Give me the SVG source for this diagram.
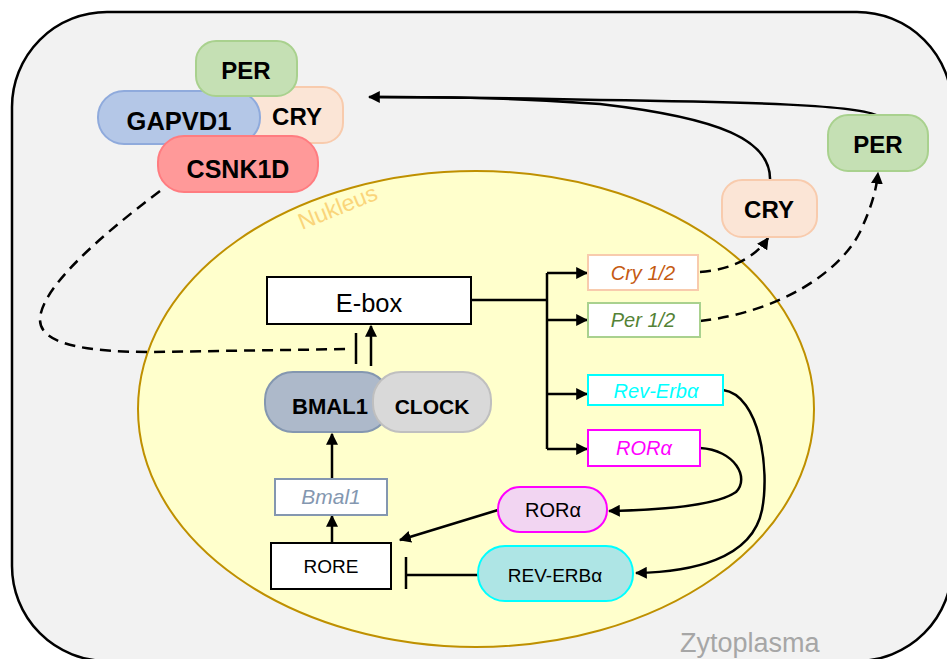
<svg xmlns="http://www.w3.org/2000/svg" width="947" height="659" viewBox="0 0 947 659">
<defs>
<marker id="arr" viewBox="0 0 10 10" refX="9" refY="5" markerWidth="12" markerHeight="12" markerUnits="userSpaceOnUse" orient="auto">
<path d="M0,0 L10,5 L0,10 z" fill="#000"/>
</marker>
<style>
.ln{fill:none;stroke:#000;stroke-width:2.5}
.ds{fill:none;stroke:#000;stroke-width:2.5;stroke-dasharray:11 7}
.b{font-family:"Liberation Sans",Arial,sans-serif;font-weight:bold;font-size:24px;fill:#000;text-anchor:middle}
.r{font-family:"Liberation Sans",Arial,sans-serif;font-size:19px;fill:#000;text-anchor:middle}
.i{font-family:"Liberation Sans",Arial,sans-serif;font-style:italic;font-size:20px;text-anchor:middle}
.gene{fill:#fff;stroke-width:2}
</style>
</defs>
<rect x="12" y="12" width="940" height="649" rx="95" ry="95" fill="#f2f2f2" stroke="#000" stroke-width="2.5"/>
<ellipse cx="476" cy="409" rx="338" ry="238" fill="#ffffcc" stroke="#bf9000" stroke-width="2"/>
<text x="302" y="230" transform="rotate(-22 302 230)" font-family="Liberation Sans,Arial,sans-serif" font-size="23" fill="#fad57a">Nukleus</text>
<text x="680" y="652" font-family="Liberation Sans,Arial,sans-serif" font-size="27" fill="#a6a6a6">Zytoplasma</text>

<g id="connectors">
<path class="ds" d="M160,191 C 95,240 40,290 40,320 C 40,345 90,352 150,352 L 352,349"/>
<line class="ln" x1="356" y1="333" x2="356" y2="364"/>
<line class="ln" x1="371" y1="366" x2="371" y2="326" marker-end="url(#arr)"/>
<path class="ln" d="M471,300 L547,300"/>
<path class="ln" d="M547,273 L547,449"/>
<line class="ln" x1="547" y1="273" x2="587" y2="273" marker-end="url(#arr)"/>
<line class="ln" x1="547" y1="320" x2="587" y2="320" marker-end="url(#arr)"/>
<line class="ln" x1="547" y1="394" x2="587" y2="394" marker-end="url(#arr)"/>
<line class="ln" x1="547" y1="449" x2="587" y2="449" marker-end="url(#arr)"/>
<path class="ds" d="M700,272 C 730,270 755,258 768,238" marker-end="url(#arr)"/>
<path class="ds" d="M700,321 C 780,312 840,272 860,232 C 871,208 876,192 878,173" marker-end="url(#arr)"/>
<path class="ln" d="M770,181 C 772,140 720,118 600,104 C 500,97 430,97 369,97" marker-end="url(#arr)"/>
<path class="ln" d="M878,116 C 860,105 750,102 600,100 C 500,98 440,97 380,97"/>
<path class="ln" d="M723,390 C 760,395 770,470 762,510 C 752,560 690,572 636,573" marker-end="url(#arr)"/>
<path class="ln" d="M700,448 C 735,450 750,478 736,492 C 716,506 660,510 609,511" marker-end="url(#arr)"/>
<line class="ln" x1="498" y1="510" x2="400" y2="540" marker-end="url(#arr)"/>
<line class="ln" x1="478" y1="575" x2="406" y2="575"/>
<line class="ln" x1="406" y1="557" x2="406" y2="589"/>
<line class="ln" x1="332" y1="479" x2="332" y2="434" marker-end="url(#arr)"/>
<line class="ln" x1="332" y1="543" x2="332" y2="516" marker-end="url(#arr)"/>
</g>

<g id="cry-complex">
<rect x="235" y="87" width="108" height="56" rx="20" fill="#fbe5d6" stroke="#f8cbad" stroke-width="2"/>
<text class="b" x="297" y="125">CRY</text>
</g>
<g id="gapvd1">
<rect x="98" y="91" width="162" height="53" rx="26" fill="#b4c7e7" stroke="#8faadc" stroke-width="2"/>
<text class="b" x="179" y="130" style="font-size:25.5px">GAPVD1</text>
</g>
<g id="per-complex">
<rect x="196" y="41" width="101" height="55" rx="20" fill="#c5e0b4" stroke="#a9d18e" stroke-width="2"/>
<text class="b" x="246" y="79">PER</text>
</g>
<g id="csnk1d">
<rect x="158" y="136" width="160" height="56" rx="26" fill="#ff9999" stroke="#ff7c80" stroke-width="2"/>
<text class="b" x="238" y="178" style="font-size:25px">CSNK1D</text>
</g>

<g id="ebox">
<rect x="267" y="277" width="204" height="47" fill="#fff" stroke="#000" stroke-width="2"/>
<text class="r" x="369" y="312" style="font-size:25.5px">E-box</text>
</g>
<g id="cry12">
<rect class="gene" x="588" y="255" width="110" height="35" stroke="#f8cbad"/>
<text class="i" x="643" y="280" fill="#c55a11">Cry 1/2</text>
</g>
<g id="per12">
<rect class="gene" x="588" y="303" width="112" height="34" stroke="#a9d18e"/>
<text class="i" x="643" y="327" fill="#548235">Per 1/2</text>
</g>
<g id="reverba-gene">
<rect class="gene" x="588" y="375" width="135" height="30" stroke="#00ffff"/>
<text class="i" x="656" y="398" fill="#00ffff">Rev-Erbα</text>
</g>
<g id="rora-gene">
<rect class="gene" x="588" y="430" width="112" height="36" stroke="#ff00ff"/>
<text class="i" x="644" y="455" fill="#ff00ff">RORα</text>
</g>

<g id="bmal1">
<rect x="265" y="372" width="125" height="60" rx="28" fill="#adb9ca" stroke="#8497b0" stroke-width="2"/>
<text class="b" x="330" y="414" style="font-size:22px">BMAL1</text>
</g>
<g id="clock">
<rect x="373" y="372" width="118" height="60" rx="28" fill="#d9d9d9" stroke="#bfbfbf" stroke-width="2"/>
<text class="b" x="432" y="414" style="font-size:21px">CLOCK</text>
</g>
<g id="bmal1-gene">
<rect class="gene" x="275" y="479" width="112" height="36" stroke="#8497b0"/>
<text class="i" x="331" y="504" fill="#8497b0" style="font-size:21px">Bmal1</text>
</g>
<g id="rore">
<rect x="271" y="543" width="120" height="46" fill="#fff" stroke="#000" stroke-width="2"/>
<text class="r" x="331" y="573">RORE</text>
</g>
<g id="rora-protein">
<rect x="498" y="487" width="109" height="45" rx="22" fill="#f2d5f2" stroke="#ff00ff" stroke-width="2"/>
<text class="r" x="553" y="517" style="font-size:20px">RORα</text>
</g>
<g id="reverba-protein">
<rect x="478" y="546" width="155" height="55" rx="27" fill="#aee5e5" stroke="#00ffff" stroke-width="2"/>
<text class="r" x="555" y="582">REV-ERBα</text>
</g>
<g id="cry-right">
<rect x="722" y="180" width="95" height="57" rx="20" fill="#fbe5d6" stroke="#f8cbad" stroke-width="2"/>
<text class="b" x="769" y="218">CRY</text>
</g>
<g id="per-right">
<rect x="828" y="115" width="100" height="56" rx="20" fill="#c5e0b4" stroke="#a9d18e" stroke-width="2"/>
<text class="b" x="878" y="153">PER</text>
</g>
</svg>
